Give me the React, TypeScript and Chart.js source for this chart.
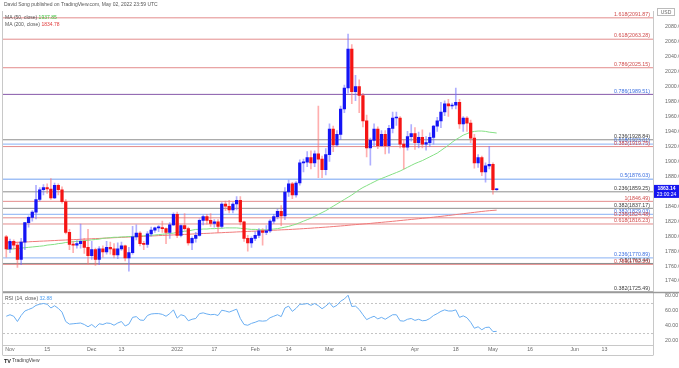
import React, { useEffect, useRef } from 'react';
import { Chart, registerables } from 'chart.js';
Chart.register(...registerables);

const FIRST_BAR = -1;
const X_MIN = -1.884;
const X_MAX = 173.08;

const opens = [1799,1783,1793,1788,1769,1792,1818,1825,1832,1849,1862,1865,1863,1851,1868,1862,1846,1805,1789,1788,1790,1793,1785,1774,1782,1769,1783,1779,1785,1783,1775,1783,1787,1771,1778,1799,1804,1790,1789,1803,1808,1811,1811.5,1810,1805,1815,1829,1801,1814,1810,1791,1797,1801,1821,1826,1821,1817,1819,1813,1843,1840,1835,1843,1848,1819,1797,1791,1797,1801,1807,1805,1807,1820,1826,1833,1827,1859,1870,1855,1871,1898,1899,1905,1898,1910,1903,1889,1909,1943,1922,1936,1970,1998,2050,1993,2000,1988,1954,1918,1928,1943,1921,1936,1921,1944,1958,1958,1923,1919,1933,1937,1925,1932,1923,1925,1932,1947,1954,1966,1977,1974,1975,1979,1950,1958,1951,1931,1898,1905,1886,1894,1896,1862];
const highs = [1801,1796,1795,1792,1797,1818,1827,1834,1868,1865,1869,1870,1877,1871,1870,1866,1849,1809,1793,1794,1816,1797,1809,1793,1784,1786,1787,1793,1792,1790,1791,1792,1788,1785,1813,1815,1806,1793,1806,1812,1812,1814,1820,1811,1818,1831,1832,1815,1830,1812,1799,1805,1823,1828,1829,1830,1822,1822,1845,1847,1848,1845,1853,1853,1820,1801,1799,1806,1810,1810,1814,1822,1829,1836,1841,1865,1875,1872,1873,1902,1903,1913,1914,1914,1974,1907,1917,1950,1947,1941,1974,2002,2070,2056,2015,2009,1991,1962,1931,1950,1946,1941,1941,1948,1966,1966,1960,1929,1940,1949,1945,1939,1942,1933,1938,1948,1959,1979,1981,1983,1978,1998,1983,1960,1960,1955,1936,1909,1907,1898,1920,1898,1864];
const lows = [1772,1778,1783,1758,1762,1782,1812,1820,1823,1847,1855,1857,1849,1850,1855,1844,1803,1782,1778,1784,1784,1777,1763,1769,1761,1762,1772,1776,1776,1771,1770,1781,1767,1753,1776,1795,1787,1782,1785,1800,1805,1806,1805,1790,1797,1814,1798,1799,1808,1788,1782,1792,1800,1815,1816,1813,1812,1805,1811,1834,1831,1831,1835,1815,1793,1780,1785,1794,1798,1788,1802,1805,1817,1823,1814,1822,1853,1850,1852,1868,1886,1893,1890,1893,1878,1878,1882,1900,1913,1920,1929,1965,1991,1977,1981,1965,1946,1906,1895,1921,1917,1920,1910,1911,1938,1948,1918,1890,1915,1927,1916,1918,1918,1915,1920,1923,1940,1945,1961,1960,1970,1970,1944,1940,1940,1925,1891,1892,1881,1872,1890,1856,1861];
const closes = [1783,1793,1788,1769,1792,1818,1825,1832,1849,1862,1865,1863,1851,1868,1862,1846,1805,1789,1788,1790,1793,1785,1774,1782,1769,1783,1779,1785,1783,1775,1783,1787,1771,1778,1799,1804,1790,1789,1803,1808,1811,1811.5,1810,1805,1815,1829,1801,1814,1810,1791,1797,1801,1821,1826,1821,1817,1819,1813,1843,1840,1835,1843,1848,1819,1797,1791,1797,1801,1807,1805,1807,1820,1826,1833,1827,1859,1870,1855,1871,1898,1899,1905,1898,1910,1903,1889,1909,1943,1922,1936,1970,1998,2050,1993,2000,1988,1954,1918,1928,1943,1921,1936,1921,1944,1958,1958.5,1923,1919,1933,1937,1925,1932,1923,1925,1932,1947,1954,1966,1977,1974,1975,1979,1950,1958,1951,1931,1898,1905,1886,1894,1896,1862,1863.14];

const ma50 = [1782,1782.5,1783,1783.5,1784,1784.5,1785,1785.5,1786,1786.5,1787,1788,1788.5,1789,1790,1790.5,1791.5,1792,1792.5,1793,1793.5,1794,1794.5,1795,1795.5,1796,1797,1797.5,1798,1798.5,1798.5,1799,1799,1799.5,1799.5,1800,1800,1800.5,1801,1801,1801.5,1802,1802.5,1803,1803.5,1804,1805,1806,1806.5,1807,1808,1809,1809,1809.5,1809.5,1810,1810,1810.5,1810.5,1811,1811,1811,1811,1810.5,1810,1809.5,1809,1809,1808.5,1808.5,1808.5,1809,1809.5,1810,1811,1812,1813,1814.5,1816,1818,1820,1822,1824,1826.5,1829,1831.5,1834,1837,1840,1843,1846,1849,1852,1855,1858.5,1862,1865,1867.5,1870,1872.5,1875,1877,1879,1881,1883,1885,1887,1889.5,1892,1894.5,1897,1899,1901,1903.5,1906,1908.5,1911,1914.5,1918,1921.5,1925.5,1929,1932,1935,1937,1939,1940,1940.5,1940.5,1940,1939,1938.5,1937.85];
const ma200 = [1791,1791.2,1791.5,1791.7,1792,1792.2,1792.4,1792.7,1792.9,1793.2,1793.4,1793.6,1793.9,1794.1,1794.4,1794.6,1794.8,1795.1,1795.3,1795.5,1795.8,1796,1796.2,1796.5,1796.7,1796.9,1797.2,1797.4,1797.6,1797.9,1798.1,1798.3,1798.6,1798.8,1799,1799.3,1799.5,1799.7,1800,1800.2,1800.4,1800.7,1800.9,1801.1,1801.4,1801.6,1801.8,1802.1,1802.3,1802.5,1802.8,1803,1803.2,1803.5,1803.7,1803.9,1804.2,1804.4,1804.6,1804.9,1805.1,1805.3,1805.6,1805.8,1806,1806.3,1806.5,1806.7,1807,1807.2,1807.4,1807.7,1807.9,1808.1,1808.4,1808.6,1808.8,1809.1,1809.4,1809.7,1810,1810.3,1810.6,1811,1811.3,1811.7,1812,1812.4,1812.8,1813.2,1813.6,1814,1814.5,1815,1815.4,1815.8,1816.2,1816.6,1817,1817.5,1818,1818.4,1818.9,1819.3,1819.8,1820.3,1820.8,1821.3,1821.8,1822.3,1822.8,1823.3,1823.8,1824.3,1824.8,1825.3,1825.9,1826.4,1827,1827.6,1828.2,1828.8,1829.4,1830,1830.6,1831.2,1831.8,1832.4,1833,1833.5,1834,1834.4,1834.78];
const rsi = [53,55,53,46,54,60,62,64,67.5,69,70,69,64,67,63.5,58.5,46,42.5,43,43.5,44,42,39,42,38,43,42,44,43.5,41,44,46,40,42.5,51.5,52.5,48,47.5,54,56,56.5,56.5,55.5,53,56.5,61.5,50.5,55,53.5,47,49,50,56.5,57.5,56,55,55.5,54,61,60,58.5,60.5,62.5,50,42,41,43.5,45,47,46.5,47,51,53,55,52.5,64,66.5,59.5,63.5,69,69,70,67.5,70,67,63,66.5,71,65,67.5,73,76,81,66,66.5,62,55,48.5,51,53,49.5,51.5,49,52,55,55,47,46.5,49,50,47.5,49,47,47.5,50,54,56.5,59.5,61.5,60,60,61.5,51.5,53.5,51,45,37,39,35,38,38.5,32.5,32.88];

const fibLevels = [2091.87,2063.28,2025.15,1989.51,1928.84,1923.01,1919.75,1876.03,1859.25,1846.49,1837.17,1829.03,1824.48,1816.23,1770.89,1763.44,1762.2,1725.49];
const fibLabels = ['1.618(2091.87)','0.618(2063.28)','0.786(2025.15)','0.786(1989.51)','0.236(1928.84)','0.618(1923.01)','0.382(1919.75)','0.5(1876.03)','0.236(1859.25)','1(1846.49)','0.382(1837.17)','0.382(1829.03)','0.236(1824.48)','0.618(1816.23)','0.236(1770.89)','0.5(1763.44)','0.786(1762.20)','0.382(1725.49)'];
const fibKinds = ['r','r','r','p','g','b','r','b','g','r','g','b','r','r','b','g','r','g'];

const xTickIdx = [0,10,22,30,45,55,66,75,86,95,109,120,130,140,152,160];
const xTickLabels = ['Nov','15','Dec','13','2022','17','Feb','14','Mar','14','Apr','18','May','16','Jun','13'];
const priceTicks = [1740,1760,1780,1800,1820,1840,1860,1880,1900,1920,1940,1960,1980,2000,2020,2040,2060,2080];
const rsiTicks = [20,40,60,80];
const rsiBands = [70,30];

const LINE_COL: Record<string,string> = { r: 'rgba(222,120,120,0.85)', b: 'rgba(150,185,245,0.9)', g: 'rgba(130,130,130,0.9)', p: 'rgba(128,80,165,0.95)' };
const TEXT_COL: Record<string,string> = { r: '#d04a4a', b: '#3b6fe0', g: '#3a3a3a', p: '#3b6fe0' };
const FONT = '"Liberation Sans", Arial, sans-serif';

export default function App() {
  const ref = useRef<HTMLCanvasElement>(null);
  useEffect(() => {
    const canvas = ref.current!;
    const xs = opens.map((_, i) => FIRST_BAR + i);
    const isUp = (i: number) => closes[i] >= opens[i];
    const datasets: any[] = [];
    datasets.push({
      type: 'bar', label: 'body', yAxisID: 'y', order: 0, grouped: false,
      data: xs.map((x, i) => ({ x, y: [opens[i], closes[i]] })),
      backgroundColor: xs.map((_, i) => (isUp(i) ? '#1414f5' : '#f51414')),
      barThickness: 2.6, minBarLength: 1, borderWidth: 0,
    });
    datasets.push({
      type: 'bar', label: 'wick', yAxisID: 'y', order: 1, grouped: false,
      data: xs.map((x, i) => ({ x, y: [lows[i], highs[i]] })),
      backgroundColor: xs.map((_, i) => (isUp(i) ? 'rgba(110,110,255,0.55)' : 'rgba(255,110,110,0.55)')),
      barThickness: 1, borderWidth: 0,
    });
    datasets.push({ type: 'line', label: 'ma50', yAxisID: 'y', order: 2, data: xs.map((x, i) => ({ x, y: ma50[i] })), borderColor: '#84e084', borderWidth: 1, pointRadius: 0, tension: 0 });
    datasets.push({ type: 'line', label: 'ma200', yAxisID: 'y', order: 2, data: xs.map((x, i) => ({ x, y: ma200[i] })), borderColor: '#f07a7a', borderWidth: 1, pointRadius: 0, tension: 0 });
    fibLevels.forEach((lv, k) => {
      datasets.push({ type: 'line', label: fibLabels[k], yAxisID: 'y', order: 3, data: [{ x: X_MIN, y: lv }, { x: X_MAX, y: lv }], borderColor: LINE_COL[fibKinds[k]], borderWidth: fibKinds[k] === 'b' ? 1.3 : 1, pointRadius: 0 });
    });
    datasets.push({ type: 'line', label: 'rsi', yAxisID: 'rsi', order: 2, data: xs.map((x, i) => ({ x, y: rsi[i] })), borderColor: '#6aaef2', borderWidth: 1, pointRadius: 0, tension: 0 });
    rsiBands.forEach((v) => datasets.push({ type: 'line', label: 'band' + v, yAxisID: 'rsi', order: 3, data: [{ x: X_MIN, y: v }, { x: X_MAX, y: v }], borderColor: '#c4c4c4', borderDash: [2, 2], borderWidth: 1, pointRadius: 0 }));

    const overlay = {
      id: 'overlay',
      afterDraw(chart: any) {
        const { ctx, chartArea, scales } = chart;
        const y = scales.y, r = scales.rsi, xa = scales.x;
        ctx.save();
        ctx.strokeStyle = '#9a9a9a';
        ctx.lineWidth = 1.5;
        ctx.beginPath(); ctx.moveTo(chartArea.left, y.bottom); ctx.lineTo(679, y.bottom); ctx.stroke();
        ctx.lineWidth = 1;
        ctx.strokeStyle = '#c8c8c8';
        ctx.beginPath(); ctx.moveTo(chartArea.left, 355.5); ctx.lineTo(chartArea.right, 355.5); ctx.stroke();
        ctx.beginPath(); ctx.moveTo(chartArea.left - 0.5, chartArea.top); ctx.lineTo(chartArea.left - 0.5, 355.5); ctx.stroke();
        ctx.beginPath(); ctx.moveTo(chartArea.right + 0.5, chartArea.bottom); ctx.lineTo(chartArea.right + 0.5, 355.5); ctx.stroke();
        // x-axis tick labels, positioned by the x scale
        ctx.font = `5.3px ${FONT}`;
        ctx.fillStyle = '#6a6a6a';
        ctx.textAlign = 'center';
        ctx.textBaseline = 'middle';
        xa.ticks.forEach((t: any) => {
          ctx.fillText(t.label, xa.getPixelForValue(t.value), xa.top + 5);
        });
        // fib labels
        ctx.textAlign = 'right';
        ctx.textBaseline = 'bottom';
        fibLevels.forEach((lv, k) => {
          ctx.fillStyle = TEXT_COL[fibKinds[k]];
          ctx.fillText(fibLabels[k], chartArea.right - 3, y.getPixelForValue(lv) - 0.6);
        });
        ctx.textAlign = 'left';
        ctx.textBaseline = 'middle';
        ctx.font = `5px ${FONT}`;
        ctx.fillStyle = '#555';
        ctx.fillText('David Song published on TradingView.com, May 02, 2022 23:59 UTC', 4, 5);
        const legend = (label: string, val: string, col: string, yy: number) => {
          ctx.font = `5px ${FONT}`;
          ctx.fillStyle = '#555';
          ctx.fillText(label, 5, yy);
          const w = ctx.measureText(label + ' ').width;
          ctx.fillStyle = col;
          ctx.fillText(val, 5 + w, yy);
        };
        legend('MA (50, close)', ma50[ma50.length - 1].toFixed(2), '#3cc03c', 18);
        legend('MA (200, close)', ma200[ma200.length - 1].toFixed(2), '#e23c3c', 25);
        legend('RSI (14, close)', rsi[rsi.length - 1].toFixed(2), '#4a9cf0', r.top + 6);
        const last = closes[closes.length - 1];
        const py = y.getPixelForValue(last);
        ctx.fillStyle = '#1616f0';
        ctx.fillRect(chartArea.right + 1, py - 4, 25, 13);
        ctx.fillStyle = '#fff';
        ctx.textAlign = 'center';
        ctx.font = `bold 5px ${FONT}`;
        ctx.fillText(last.toFixed(2), chartArea.right + 13.5, py);
        ctx.font = `5px ${FONT}`;
        ctx.fillText('23:00:24', chartArea.right + 13.5, py + 5.5);
        ctx.strokeStyle = '#bbb';
        ctx.strokeRect(chartArea.right + 4.5, 8.5, 17, 7);
        ctx.fillStyle = '#666';
        ctx.fillText('USD', chartArea.right + 13, 12.2);
        ctx.textAlign = 'left';
        ctx.fillStyle = '#222';
        ctx.font = `bold 5.5px ${FONT}`;
        ctx.fillText('TV', 4, 361);
        ctx.font = `5px ${FONT}`;
        ctx.fillStyle = '#444';
        ctx.fillText('TradingView', 12, 361);
        ctx.restore();
      },
    };

    const tickFont = { size: 5.3, family: FONT };
    const chart = new Chart(canvas, {
      type: 'bar',
      data: { datasets },
      plugins: [overlay],
      options: {
        responsive: false,
        animation: false,
        events: [],
        layout: { padding: { top: 11, left: 3, right: 0, bottom: 12 } },
        plugins: { legend: { display: false }, tooltip: { enabled: false } },
        scales: {
          x: {
            type: 'linear', min: X_MIN, max: X_MAX, offset: false, display: true,
            grid: { display: false, offset: false },
            border: { display: true, color: '#c8c8c8' },
            afterBuildTicks: (s: any) => { s.ticks = xTickIdx.map((v) => ({ value: v })); },
            afterFit: (s: any) => { s.height = 11; },
            ticks: { display: true, autoSkip: false, maxRotation: 0, minRotation: 0, padding: 2, color: '#6a6a6a', font: tickFont,
              callback: (v: any) => { const k = xTickIdx.indexOf(Number(v)); return k >= 0 ? xTickLabels[k] : ''; } },
          },
          y: {
            type: 'linear', position: 'right', stack: 'pane', stackWeight: 281.6, min: 1724.5, max: 2101, offset: false,
            grid: { display: false },
            border: { display: true, color: '#c8c8c8' },
            afterBuildTicks: (s: any) => { s.ticks = priceTicks.map((v) => ({ value: v })); },
            afterFit: (s: any) => { s.width = 26; },
            ticks: { autoSkip: false, padding: 4, color: '#6a6a6a', font: tickFont, callback: (v: any) => Number(v).toFixed(2) },
          },
          rsi: {
            type: 'linear', position: 'right', stack: 'pane', stackWeight: 52.4, min: 14.7, max: 84.5, offset: false,
            grid: { display: false },
            border: { display: true, color: '#c8c8c8' },
            afterBuildTicks: (s: any) => { s.ticks = rsiTicks.map((v) => ({ value: v })); },
            afterFit: (s: any) => { s.width = 26; },
            ticks: { autoSkip: false, padding: 4, color: '#6a6a6a', font: tickFont, callback: (v: any) => Number(v).toFixed(2) },
          },
        },
      } as any,
    });
    return () => chart.destroy();
  }, []);
  return (
    <div style={{ position: 'absolute', left: 0, top: 0, width: 679, height: 368, background: '#fff' }}>
      <canvas ref={ref} width={679} height={368} style={{ display: 'block', width: 679, height: 368 }} />
    </div>
  );
}
